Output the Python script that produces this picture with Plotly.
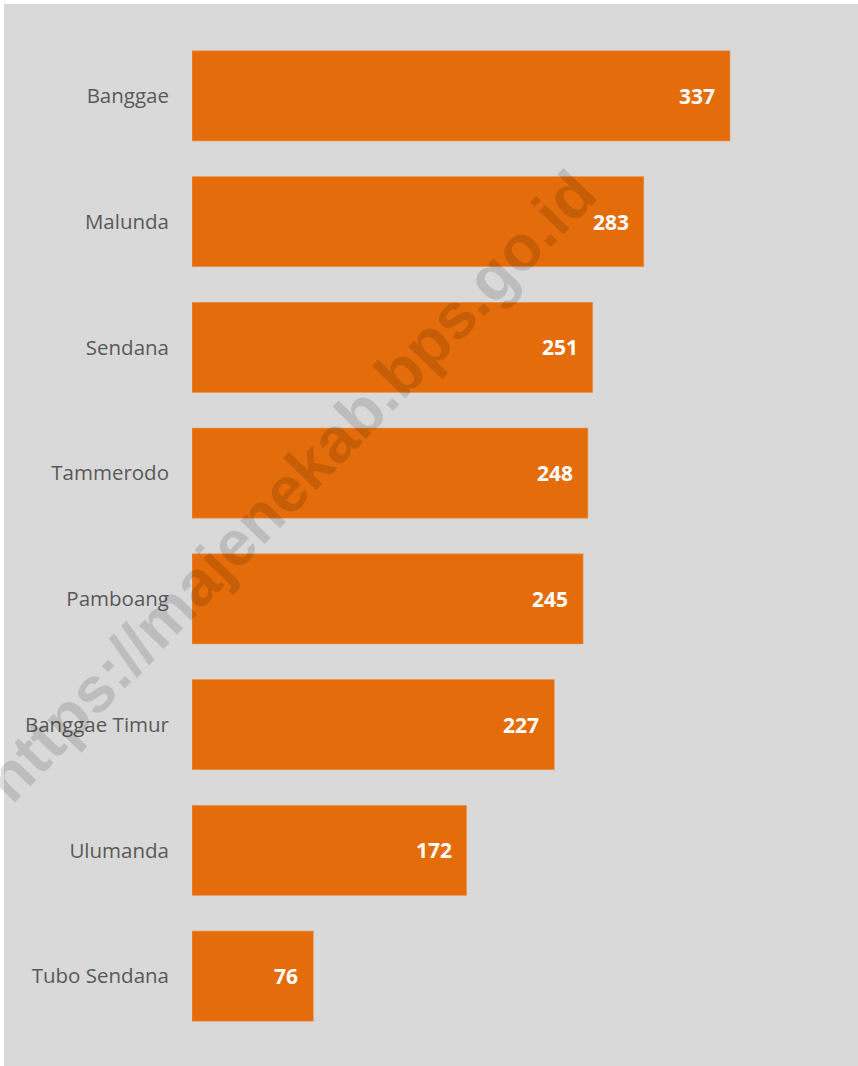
import plotly.graph_objects as go

categories = ["Banggae", "Malunda", "Sendana", "Tammerodo", "Pamboang",
              "Banggae Timur", "Ulumanda", "Tubo Sendana"]
values = [337, 283, 251, 248, 245, 227, 172, 76]

W, H = 858, 1066
L, R, T, B = 192, 0, 33, 27
pw = W - L - R
ph = H - T - B
px_per_unit = (730 - 192) / 337.0
xmax = pw / px_per_unit

BAR = "#E46C0A"
BG = "#D9D9D9"
FONT = "Open Sans"

fig = go.Figure()
fig.add_trace(go.Bar(
    x=values, y=categories, orientation="h",
    marker=dict(color=BAR, line=dict(color="#EE9A55", width=0.6)),
    hoverinfo="skip", showlegend=False,
))

annotations = []
for c, v in zip(categories, values):
    annotations.append(dict(
        x=v, y=c, xref="x", yref="y", text=f"<b>{v}</b>", showarrow=False,
        xanchor="right", yanchor="middle", xshift=-13,
        font=dict(family=FONT, size=21, color="white"),
    ))

# watermark
annotations.append(dict(
    x=(290 - L) / pw, y=(H - B - 486) / ph, xref="paper", yref="paper",
    text="<b>https://majenekab.bps.go.id</b>", showarrow=False,
    textangle=-46, xanchor="center", yanchor="middle",
    font=dict(family="Liberation Sans", size=64, color="rgba(0,0,0,0.13)"),
))

fig.update_layout(
    width=W, height=H,
    margin=dict(l=L, r=R, t=T, b=B, pad=0),
    paper_bgcolor="white",
    plot_bgcolor="rgba(0,0,0,0)",
    bargap=0.284,
    xaxis=dict(range=[0, xmax], visible=False, showgrid=False, zeroline=False),
    yaxis=dict(autorange="reversed", showgrid=False, zeroline=False, ticks="",
               showline=False, ticklabelstandoff=22,
               tickfont=dict(family=FONT, size=20.5, color="#595959")),
    annotations=annotations,
    shapes=[dict(type="rect", xref="paper", yref="paper", layer="below",
                 x0=(4 - L) / pw, x1=(W + 2 - L) / pw,
                 y0=(H - B - (H + 2)) / ph, y1=(H - B - 4) / ph,
                 fillcolor=BG, line=dict(width=0))],
)

fig.write_html(
    "out.html",
    config={"displayModeBar": False},
    post_script="document.body.style.margin='0';document.body.style.overflow='hidden';",
)
